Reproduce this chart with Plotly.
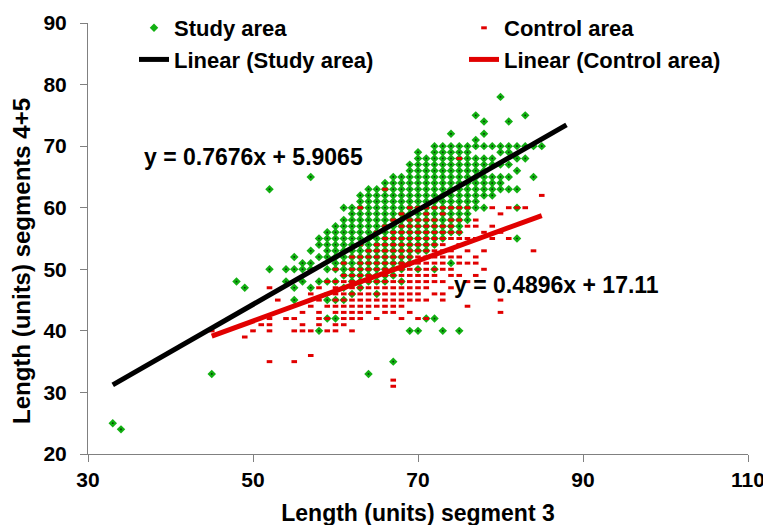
import plotly.graph_objects as go

# ---------------- data ----------------
# Study area: x columns and the y values found in each column
study_cols = [33, 34, 45, 48, 49, 52, 54, 55, 56, 57, 58, 59, 60, 61, 62, 63, 64, 65, 66, 67,
              68, 69, 70, 71, 72, 73, 74, 75, 76, 77, 78, 79, 80, 81, 82, 83, 84, 85]
study_col_y = [
    [25],
    [24],
    [33],
    [48],
    [47],
    [63, 50],
    [50, 48],
    [52, 50, 47, 45],
    [51, 50, 48],
    [65, 53, 51, 50, 47],
    [55, 54, 52, 48, 40],
    [56, 55, 54, 53, 52, 50, 48, 45, 42],
    [57, 56, 55, 54, 53, 52, 51, 50, 48, 45, 42],
    [60, 58, 57, 56, 55, 54, 53, 52, 51, 50, 49, 47, 45],
    [60, 59, 58, 57, 56, 55, 54, 53, 52, 51, 50, 49, 48, 46],
    [62, 61, 60, 59, 58, 57, 56, 55, 54, 53, 52, 51, 50, 49, 48, 47],
    [63, 62, 61, 60, 59, 58, 57, 56, 55, 54, 53, 52, 51, 50, 49, 48, 33],
    [63, 62, 61, 60, 59, 58, 57, 56, 55, 54, 53, 52, 51, 50, 49, 48, 46],
    [64, 63, 62, 61, 60, 59, 58, 57, 56, 55, 54, 53, 52, 51, 50, 49, 48],
    [65, 64, 63, 62, 61, 60, 59, 58, 57, 56, 55, 54, 53, 52, 51, 50, 49, 35],
    [65, 64, 63, 62, 61, 60, 59, 58, 57, 56, 55, 54, 53, 52, 51, 50, 48],
    [67, 66, 65, 64, 63, 62, 61, 60, 59, 58, 57, 56, 55, 54, 53, 52, 51, 40],
    [69, 68, 67, 66, 65, 64, 63, 62, 61, 60, 59, 58, 57, 56, 55, 54, 53, 50, 40],
    [68, 67, 66, 65, 64, 63, 62, 61, 60, 59, 58, 57, 56, 55, 54, 53, 42],
    [70, 69, 68, 67, 66, 65, 64, 63, 62, 61, 60, 59, 58, 57, 56, 55, 54, 50, 42],
    [70, 69, 68, 67, 66, 65, 64, 63, 62, 61, 60, 59, 58, 57, 56, 55, 40],
    [72, 70, 69, 68, 67, 66, 65, 64, 63, 62, 61, 60, 59, 58, 57, 56, 51],
    [70, 69, 68, 67, 66, 65, 64, 63, 62, 61, 60, 59, 58, 57, 56, 40],
    [70, 69, 68, 67, 66, 65, 64, 63, 62, 61, 60, 59, 58],
    [75, 71, 70, 68, 67, 66, 65, 64, 63, 62, 61, 60],
    [74, 72, 70, 68, 67, 66, 65, 64, 63, 62, 60],
    [70, 68, 67, 65, 64, 63, 62],
    [78, 70, 69, 67, 65, 64, 63],
    [74, 70, 69, 67, 65, 63],
    [70, 68, 66, 63, 60, 55],
    [75, 70, 68],
    [70, 65],
    [70],
]

# Control area: x columns and the y values found in each column
control_cols = [45, 49, 50, 51, 52, 53, 54, 55, 56, 57, 58, 59, 60, 61, 62, 63, 64, 65, 66, 67,
                68, 69, 70, 71, 72, 73, 74, 75, 76, 77, 78, 79, 80, 81, 82, 83, 84, 85]
control_col_y = [
    [40],
    [39],
    [40],
    [41],
    [47, 42, 41, 40, 35],
    [45],
    [42],
    [42, 40, 35],
    [43, 41, 40],
    [46, 44, 40, 36],
    [47, 45, 43, 42, 41],
    [48, 46, 44, 42, 40],
    [50, 48, 47, 46, 45, 44, 43, 41, 40],
    [51, 49, 48, 47, 46, 45, 44, 43, 42, 41],
    [52, 50, 49, 48, 47, 46, 45, 44, 43, 42, 40],
    [60, 54, 52, 51, 50, 49, 48, 47, 46, 45, 44, 43, 42],
    [55, 53, 52, 51, 50, 49, 48, 47, 46, 45, 44, 43],
    [56, 54, 53, 52, 51, 50, 49, 48, 47, 46, 45, 44, 42],
    [63, 57, 55, 54, 53, 52, 51, 50, 49, 48, 47, 46, 45, 44, 43],
    [58, 56, 55, 54, 53, 52, 51, 50, 49, 48, 47, 46, 45, 44, 43, 32, 31],
    [59, 57, 56, 55, 54, 53, 52, 51, 50, 49, 48, 47, 46, 45, 44, 42],
    [60, 58, 57, 56, 55, 54, 53, 52, 51, 50, 49, 48, 47, 46, 45, 43],
    [60, 58, 57, 56, 55, 54, 53, 52, 51, 50, 49, 48, 47, 46, 45, 42],
    [60, 59, 58, 57, 56, 55, 54, 53, 52, 51, 50, 49, 48, 47, 45, 42],
    [60, 58, 57, 56, 55, 54, 53, 52, 51, 50, 49, 48, 46],
    [60, 59, 57, 56, 55, 54, 53, 52, 51, 50, 48, 46, 45],
    [60, 58, 57, 56, 55, 53, 52, 50, 49, 47],
    [68, 60, 58, 56, 55, 54, 52, 51, 49],
    [60, 57, 55, 53, 51, 48, 44],
    [58, 57, 55, 52, 51, 49],
    [56, 53, 50],
    [60, 57, 55],
    [59, 56, 45, 43],
    [60, 55],
    [60],
    [60],
    [53],
    [62],
]

# Linear trendlines (coefficients as printed on the chart) and their x extents
study_slope, study_intercept = 0.7676, 5.9065
control_slope, control_intercept = 0.4896, 17.11
study_fit_x = [33, 88]
control_fit_x = [45, 85]

x_ticks = [30, 50, 70, 90, 110]
y_ticks = [20, 30, 40, 50, 60, 70, 80, 90]

# ---------------- build ----------------
study_x, study_y = [], []
for cx, ys in zip(study_cols, study_col_y):
    for yv in ys:
        study_x.append(cx)
        study_y.append(yv)

control_x, control_y = [], []
for cx, ys in zip(control_cols, control_col_y):
    for yv in ys:
        control_x.append(cx)
        control_y.append(yv)

study_fit_y = [study_slope * v + study_intercept for v in study_fit_x]
control_fit_y = [control_slope * v + control_intercept for v in control_fit_x]

FONT = "Liberation Sans, Arial, sans-serif"
GREEN = "#12B012"
RED = "#E10000"

fig = go.Figure()
fig.add_trace(go.Scatter(
    x=study_x, y=study_y, mode="markers", name="<b>Study area</b>", legend="legend",
    marker=dict(symbol="diamond", size=6.5, color=GREEN, line=dict(width=0)),
))
fig.add_trace(go.Scatter(
    x=study_x, y=study_y, mode="markers", showlegend=False, hoverinfo="skip",
    marker=dict(symbol="square", size=1.6, color="#083808", line=dict(width=0)),
))
fig.add_trace(go.Scatter(
    x=control_x, y=control_y, mode="markers", name="<b>Control area</b>", legend="legend2",
    marker=dict(symbol="line-ew", size=4, color=RED, line=dict(width=3, color=RED)),
))
fig.add_trace(go.Scatter(
    x=study_fit_x, y=study_fit_y, mode="lines", name="<b>Linear (Study area)</b>",
    legend="legend", line=dict(color="black", width=5),
))
fig.add_trace(go.Scatter(
    x=control_fit_x, y=control_fit_y, mode="lines", name="<b>Linear (Control area)</b>",
    legend="legend2", line=dict(color=RED, width=5),
))

fig.add_annotation(x=50.1, y=68.3, xref="x", yref="y", showarrow=False,
                   text="<b>y = 0.7676x + 5.9065</b>",
                   font=dict(family=FONT, size=23, color="black"))
fig.add_annotation(x=86.8, y=47.5, xref="x", yref="y", showarrow=False,
                   text="<b>y = 0.4896x + 17.11</b>",
                   font=dict(family=FONT, size=23, color="black"))
# y-axis title (placed as in the reference, slightly below the plot centre)
fig.add_annotation(x=-0.1, y=0.4478, xref="paper", yref="paper", showarrow=False,
                   textangle=-90, xanchor="center", yanchor="middle",
                   text="<b>Length (units) segments 4+5</b>",
                   font=dict(family=FONT, size=24, color="black"))

axis_common = dict(
    showgrid=False, zeroline=False, showline=True, linecolor="#808080", linewidth=1,
    ticks="outside", ticklen=7, tickcolor="#808080", tickwidth=1, automargin=False,
    tickfont=dict(family=FONT, size=21, color="black", weight="bold"),
)

legend_common = dict(
    orientation="v", xref="paper", yref="paper", xanchor="left", yanchor="top",
    font=dict(family=FONT, size=22, color="black"), bgcolor="rgba(0,0,0,0)",
    tracegroupgap=0,
)

fig.update_layout(
    width=771, height=525,
    margin=dict(l=80, r=31, t=15, b=79, autoexpand=False),
    paper_bgcolor="white", plot_bgcolor="white",
    font=dict(family=FONT, color="black"),
    xaxis=dict(range=[30, 110], tickvals=x_ticks, ticktext=[str(v) for v in x_ticks],
               title=dict(text="<b>Length (units) segment 3</b>",
                          font=dict(family=FONT, size=23, color="black"), standoff=14),
               ticklabelstandoff=0, **axis_common),
    yaxis=dict(range=[20, 90], tickvals=y_ticks, ticktext=[str(v) for v in y_ticks],
               ticklabelstandoff=9, **axis_common),
    legend=dict(x=0.0697, y=1.0371, **legend_common),
    legend2=dict(x=0.5697, y=1.0371, **legend_common),
    showlegend=True,
)

fig.write_html("out.html")
